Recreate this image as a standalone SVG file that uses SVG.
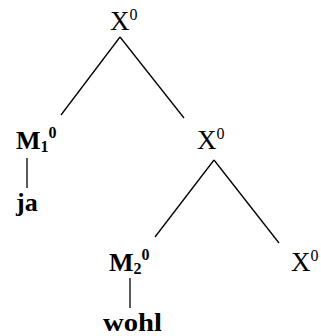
<svg xmlns="http://www.w3.org/2000/svg" width="321" height="336" viewBox="0 0 321 336">
<style>
text{font-family:"Liberation Serif","Times New Roman",serif;fill:#000}
.n{font-size:27px}
.b{font-size:26px;font-weight:bold}
.sup{font-size:16px}
.sub{font-size:16px}
line{stroke:#000;stroke-width:1.3}
</style>
<rect width="321" height="336" fill="#fff"/>
<g id="connectors">
<line x1="120" y1="37" x2="61" y2="115"/>
<line x1="120" y1="37" x2="184" y2="118"/>
<line x1="27" y1="158" x2="27" y2="188"/>
<line x1="214" y1="160" x2="155" y2="237"/>
<line x1="214" y1="160" x2="279" y2="243"/>
<line x1="130" y1="278" x2="130" y2="308"/>
</g>
<g id="x-top"><text class="n" x="110" y="30">X<tspan class="sup" dy="-10">0</tspan></text></g>
<g id="m1"><text class="b" x="16" y="149">M<tspan class="sub" dy="3">1</tspan><tspan class="sup" dy="-14">0</tspan></text></g>
<g id="ja"><text class="b" x="16" y="211">ja</text></g>
<g id="x-mid"><text class="n" x="197" y="149">X<tspan class="sup" dy="-10">0</tspan></text></g>
<g id="m2"><text class="b" x="109" y="271">M<tspan class="sub" dy="3">2</tspan><tspan class="sup" dy="-14">0</tspan></text></g>
<g id="wohl"><text class="b" x="103" y="331" textLength="59" lengthAdjust="spacingAndGlyphs">wohl</text></g>
<g id="x-right"><text class="n" x="291" y="271">X<tspan class="sup" dy="-10">0</tspan></text></g>
</svg>
